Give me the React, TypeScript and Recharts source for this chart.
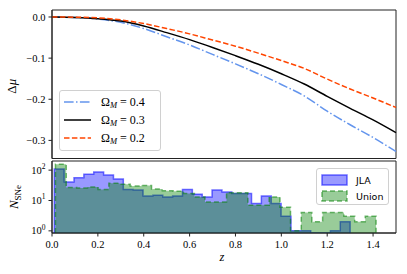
import React from "react"
import { ComposedChart, LineChart, Line, Area, XAxis, YAxis, Legend, ReferenceArea } from "recharts"

// distance-modulus difference curves
const zGrid = [0, 0.1, 0.2, 0.3, 0.4, 0.5, 0.6, 0.7, 0.8, 0.9, 1.0, 1.1, 1.2, 1.3, 1.4, 1.5]
const dmuOm04 = [0, -0.001, -0.005, -0.013, -0.028, -0.048, -0.068, -0.091, -0.114, -0.138, -0.164, -0.192, -0.229, -0.262, -0.293, -0.327]
const dmuOm03 = [0, -0.001, -0.004, -0.010, -0.022, -0.038, -0.055, -0.074, -0.094, -0.115, -0.138, -0.163, -0.193, -0.222, -0.250, -0.281]
const dmuOm02 = [0, -0.0005, -0.002, -0.007, -0.016, -0.028, -0.041, -0.056, -0.071, -0.088, -0.106, -0.125, -0.151, -0.175, -0.197, -0.220]

// SN counts per redshift bin
const jlaEdges = [0.010, 0.053, 0.096, 0.139, 0.182, 0.225, 0.268, 0.311, 0.354, 0.397, 0.440, 0.483, 0.526, 0.569, 0.612, 0.655, 0.698, 0.741, 0.784, 0.827, 0.870, 0.913, 0.956, 0.999, 1.042, 1.085, 1.128, 1.171, 1.214, 1.257, 1.300]
const jlaCounts = [110, 41, 56, 73, 87, 69, 51, 23, 22, 14, 15, 13, 14, 23, 16, 13, 22, 19, 17, 17, 8, 14, 8, 3, 1, 1, 0, 0, 1, 2]
const unionEdges = [0.015, 0.062, 0.108, 0.155, 0.201, 0.248, 0.295, 0.341, 0.388, 0.434, 0.481, 0.528, 0.574, 0.621, 0.667, 0.714, 0.761, 0.807, 0.854, 0.900, 0.947, 0.994, 1.040, 1.087, 1.133, 1.180, 1.227, 1.273, 1.320, 1.366, 1.413]
const unionCounts = [155, 27, 26, 28, 23, 37, 34, 30, 31, 24, 21, 20, 17, 13, 9, 9, 18, 18, 7, 7, 13, 6, 1, 4, 2, 4, 4, 3, 2, 3]

const xTicks = [0, 0.2, 0.4, 0.6, 0.8, 1.0, 1.2, 1.4]
const dmuTicks = [0, -0.1, -0.2, -0.3]
const logTicks = [1, 10, 100]
const logMinorTicks = [2, 3, 4, 5, 6, 7, 8, 9, 20, 30, 40, 50, 60, 70, 80, 90]

const DMU_DOMAIN = [-0.344, 0.017]
const LOG_FLOOR = 0.85
const LOG_DOMAIN = [LOG_FLOOR, 200]

const SERIF = "'Liberation Serif', 'DejaVu Serif', serif"
const SANS = "'DejaVu Sans', sans-serif"
const AXIS = "#222"

const curveRows = zGrid.map((z, i) => ({ z, om4: dmuOm04[i], om3: dmuOm03[i], om2: dmuOm02[i] }))

function stepRows(edges: number[], counts: number[], key: string) {
  const last = edges.length - 1
  const rows: any[] = [{ z: edges[0], [key]: LOG_FLOOR }]
  counts.forEach((c, i) => rows.push({ z: edges[i], [key]: Math.max(c, LOG_FLOOR) }))
  rows.push({ z: edges[last], [key]: Math.max(counts[counts.length - 1], LOG_FLOOR) })
  rows.push({ z: edges[last], [key]: LOG_FLOOR })
  return rows
}

const histRows = [...stepRows(jlaEdges, jlaCounts, "jla"), ...stepRows(unionEdges, unionCounts, "union")]
  .sort((a, b) => a.z - b.z)

const fmtDmu = (v: number) => (v === 0 ? "0.0" : "\u2212" + Math.abs(v).toFixed(1))

function LogTick({ x, y, payload }: any) {
  const exp = Math.round(Math.log10(payload.value))
  return (
    <text x={x} y={y} dy={3.5} textAnchor="end" fontFamily={SERIF} fontSize={10.5} fill="#000">
      10<tspan dy={-4.5} fontSize={7.5}>{exp}</tspan>
    </text>
  )
}

function DmuLabel({ viewBox }: any) {
  const cx = viewBox.x + 12
  const cy = viewBox.y + viewBox.height / 2 + 2
  return (
    <text x={cx} y={cy} transform={`rotate(-90 ${cx} ${cy})`} textAnchor="middle" dy={4}
      fontFamily={SERIF} fontSize={13} fill="#000">
      Δ<tspan fontStyle="italic">μ</tspan>
    </text>
  )
}

function NsneLabel({ viewBox }: any) {
  const cx = viewBox.x + 14
  const cy = viewBox.y + viewBox.height / 2
  return (
    <text x={cx} y={cy} transform={`rotate(-90 ${cx} ${cy})`} textAnchor="middle" dy={4}
      fontFamily={SERIF} fontSize={13} fill="#000">
      <tspan fontStyle="italic">N</tspan><tspan fontSize={9} dy={3}>SNe</tspan>
    </text>
  )
}

function ZLabel({ viewBox }: any) {
  return (
    <text x={viewBox.x + viewBox.width / 2 - 2} y={viewBox.y + viewBox.height - 2} textAnchor="middle"
      fontFamily={SERIF} fontStyle="italic" fontSize={12.5} fill="#000">z</text>
  )
}

const curveLegend = [
  { om: "0.4", color: "#6495ed", dash: "9.6 2.4 1.5 2.4" },
  { om: "0.3", color: "#000000", dash: undefined },
  { om: "0.2", color: "#ff4500", dash: "5.5 2.4" },
]

function CurveLegend() {
  return (
    <div style={{
      width: 102, height: 61, boxSizing: "border-box", border: "1px solid #d0d0d0", borderRadius: 3,
      background: "rgba(255,255,255,0.85)", padding: "2px 0 0 4px",
    }}>
      {curveLegend.map((d) => (
        <div key={d.om} style={{ display: "flex", alignItems: "center", height: 18 }}>
          <svg width={28} height={8} style={{ marginRight: 9 }}>
            <line x1={0} y1={4} x2={27} y2={4} stroke={d.color} strokeWidth={1.5} strokeDasharray={d.dash} />
          </svg>
          <span style={{ fontFamily: SERIF, fontSize: 12, color: "#000", whiteSpace: "nowrap" }}>
            Ω<sub style={{ fontStyle: "italic", fontSize: 8.5, verticalAlign: "-2px" }}>M</sub> = {d.om}
          </span>
        </div>
      ))}
    </div>
  )
}

const histLegend = [
  { name: "JLA", fill: "rgba(0,0,255,0.4)", stroke: "rgba(0,0,255,0.55)", dash: undefined },
  { name: "Union", fill: "rgba(0,128,0,0.4)", stroke: "rgba(0,128,0,0.55)", dash: "5 3" },
]

function HistLegend() {
  return (
    <div style={{
      width: 73, height: 37, boxSizing: "border-box", border: "1px solid #d0d0d0", borderRadius: 3,
      background: "rgba(255,255,255,0.85)", padding: "3px 0 0 4px",
    }}>
      {histLegend.map((d) => (
        <div key={d.name} style={{ display: "flex", alignItems: "center", height: 16 }}>
          <svg width={27} height={12} style={{ marginRight: 8 }}>
            <rect x={1} y={1} width={25} height={10} fill={d.fill} stroke={d.stroke} strokeWidth={1.5} strokeDasharray={d.dash} />
          </svg>
          <span style={{ fontFamily: SANS, fontSize: 9.5, color: "#000" }}>{d.name}</span>
        </div>
      ))}
    </div>
  )
}

export default function App() {
  const tickStyle = { fontSize: 10.5, fill: "#000", fontFamily: SERIF }
  return (
    <div style={{ position: "absolute", left: 0, top: 0, width: 407, height: 274, background: "#fff" }}>
      <div style={{ position: "absolute", left: 0, top: 0 }}>
        <LineChart width={407} height={274} data={curveRows} margin={{ top: 10, right: 11, bottom: 114.5, left: 0 }}>
          <XAxis dataKey="z" type="number" domain={[0, 1.5]} ticks={xTicks} tick={false} height={1}
            tickSize={3.5} axisLine={{ stroke: AXIS }} tickLine={{ stroke: AXIS }} />
          <YAxis type="number" domain={DMU_DOMAIN} ticks={dmuTicks} tickFormatter={fmtDmu} width={52}
            tick={tickStyle} tickSize={3.5} tickMargin={3} allowDataOverflow
            axisLine={{ stroke: AXIS }} tickLine={{ stroke: AXIS }} label={<DmuLabel />} />
          <ReferenceArea x1={0} x2={1.5} y1={DMU_DOMAIN[0]} y2={DMU_DOMAIN[1]} fill="none" stroke={AXIS} strokeWidth={1} />
          <Line dataKey="om4" type="monotone" stroke="#6495ed" strokeWidth={1.5} strokeDasharray="9.6 2.4 1.5 2.4" dot={false} isAnimationActive={false} />
          <Line dataKey="om3" type="monotone" stroke="#000" strokeWidth={1.5} dot={false} isAnimationActive={false} />
          <Line dataKey="om2" type="monotone" stroke="#ff4500" strokeWidth={1.5} strokeDasharray="5.5 2.4" dot={false} isAnimationActive={false} />
          <Legend content={<CurveLegend />} layout="horizontal" align="center" verticalAlign="middle"
            wrapperStyle={{ position: "absolute", left: 59, top: 90, width: 102, height: 61 }} />
        </LineChart>
      </div>
      <div style={{ position: "absolute", left: 0, top: 0 }}>
        <ComposedChart width={407} height={274} data={histRows} margin={{ top: 161, right: 11, bottom: 11, left: 0 }}>
          <XAxis dataKey="z" type="number" domain={[0, 1.5]} ticks={xTicks} tickFormatter={(v: number) => v.toFixed(1)}
            height={30} tick={tickStyle} tickSize={3.5} tickMargin={4}
            axisLine={{ stroke: AXIS }} tickLine={{ stroke: AXIS }} label={<ZLabel />} />
          <YAxis type="number" scale="log" domain={LOG_DOMAIN} ticks={logTicks} allowDataOverflow width={52}
            tick={<LogTick />} tickSize={3.5} tickMargin={3}
            axisLine={{ stroke: AXIS }} tickLine={{ stroke: AXIS }} label={<NsneLabel />} />
          <YAxis yAxisId="minor" type="number" scale="log" domain={LOG_DOMAIN} ticks={logMinorTicks} allowDataOverflow
            width={0} tick={false} tickSize={2} axisLine={false} tickLine={{ stroke: AXIS }} />
          <ReferenceArea x1={0} x2={1.5} y1={LOG_DOMAIN[0]} y2={LOG_DOMAIN[1]} fill="none" stroke={AXIS} strokeWidth={1} />
          <Area dataKey="jla" type="stepAfter" baseValue={LOG_FLOOR} connectNulls fill="#0000ff" fillOpacity={0.4}
            stroke="#0000ff" strokeOpacity={0.55} strokeWidth={1.5} dot={false} isAnimationActive={false} />
          <Area dataKey="union" type="stepAfter" baseValue={LOG_FLOOR} connectNulls fill="#008000" fillOpacity={0.4}
            stroke="#008000" strokeOpacity={0.55} strokeWidth={1.5} strokeDasharray="5 3" dot={false} isAnimationActive={false} />
          <Legend content={<HistLegend />} layout="horizontal" align="center" verticalAlign="middle"
            wrapperStyle={{ position: "absolute", left: 316, top: 168, width: 73, height: 37 }} />
        </ComposedChart>
      </div>
    </div>
  )
}
